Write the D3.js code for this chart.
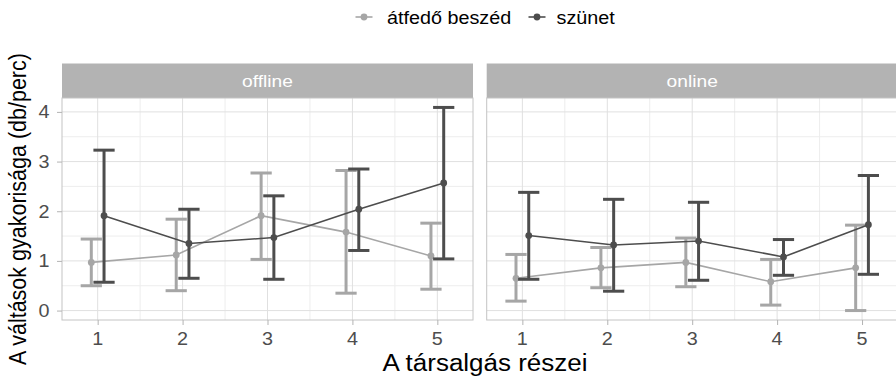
<!DOCTYPE html>
<html>
<head>
<meta charset="utf-8">
<script src="https://cdn.jsdelivr.net/npm/d3@7"></script>
<style>
  html, body { margin: 0; padding: 0; background: #ffffff; }
  svg { display: block; font-family: "Liberation Sans", Arial, sans-serif; }
</style>
</head>
<body>
<svg id="chart" width="896" height="376"></svg>
<script>
// Conversation parts (x axis) and facet panels
const parts = [1, 2, 3, 4, 5];
const panels = ["offline", "online"];
const seriesNames = ["átfedő beszéd", "szünet"];
const yTicks = [0, 1, 2, 3, 4];

// Switch frequency (per minute): mean with lower / upper interval bounds
const offlineOverlapMean = [0.97, 1.12, 1.91, 1.58, 1.10];
const offlineOverlapLow  = [0.50, 0.40, 1.03, 0.35, 0.43];
const offlineOverlapHigh = [1.44, 1.84, 2.77, 2.82, 1.76];
const offlinePauseMean   = [1.91, 1.35, 1.47, 2.04, 2.57];
const offlinePauseLow    = [0.57, 0.65, 0.63, 1.21, 1.04];
const offlinePauseHigh   = [3.23, 2.04, 2.31, 2.85, 4.09];

const onlineOverlapMean  = [0.65, 0.86, 0.97, 0.58, 0.86];
const onlineOverlapLow   = [0.19, 0.46, 0.48, 0.11, 0.00];
const onlineOverlapHigh  = [1.13, 1.27, 1.46, 1.03, 1.72];
const onlinePauseMean    = [1.51, 1.32, 1.40, 1.08, 1.73];
const onlinePauseLow     = [0.63, 0.39, 0.61, 0.71, 0.73];
const onlinePauseHigh    = [2.38, 2.24, 2.18, 1.43, 2.72];

const seriesColors = ["#a6a6a6", "#4d4d4d"];

function rows(mean, low, high) {
  return parts.map((p, i) => ({ part: p, mean: mean[i], low: low[i], high: high[i] }));
}
const panelData = {
  offline: [rows(offlineOverlapMean, offlineOverlapLow, offlineOverlapHigh),
            rows(offlinePauseMean, offlinePauseLow, offlinePauseHigh)],
  online:  [rows(onlineOverlapMean, onlineOverlapLow, onlineOverlapHigh),
            rows(onlinePauseMean, onlinePauseLow, onlinePauseHigh)]
};

// Layout
const SX = 1.13;              // horizontal text stretch
const panelTop = 98, panelBottom = 320, stripTop = 63.5;
const panelLefts = [62, 486.7];
const panelWidth = 411;
const dodge = 0.075, capHalf = 0.125;

const svg = d3.select("#chart");

const y = d3.scaleLinear().domain([-0.19, 4.28]).range([panelBottom, panelTop]);

function stretchedText(g, x, yy, str) {
  return g.append("text")
    .attr("transform", `translate(${x},${yy}) scale(${SX},1)`)
    .text(str);
}

panels.forEach((name, pi) => {
  const left = panelLefts[pi];
  const x = d3.scaleLinear().domain([0.58, 5.42]).range([left, left + panelWidth]);
  const g = svg.append("g");

  // Strip
  g.append("rect")
    .attr("x", left).attr("y", stripTop)
    .attr("width", panelWidth).attr("height", panelTop - stripTop)
    .attr("fill", "#b3b3b3");
  stretchedText(g, left + panelWidth / 2, 86.5, name)
    .attr("text-anchor", "middle").attr("fill", "#ffffff")
    .attr("font-size", 17);

  // Minor grid
  const xMinor = [1.5, 2.5, 3.5, 4.5];
  const yMinor = [0.5, 1.5, 2.5, 3.5];
  g.selectAll(".vminor").data(xMinor).join("line")
    .attr("x1", d => x(d)).attr("x2", d => x(d))
    .attr("y1", panelTop).attr("y2", panelBottom)
    .attr("stroke", "#ededed").attr("stroke-width", 1);
  g.selectAll(".hminor").data(yMinor).join("line")
    .attr("x1", left).attr("x2", left + panelWidth)
    .attr("y1", d => y(d)).attr("y2", d => y(d))
    .attr("stroke", "#ededed").attr("stroke-width", 1);
  // Major grid
  g.selectAll(".vmajor").data(parts).join("line")
    .attr("x1", d => x(d)).attr("x2", d => x(d))
    .attr("y1", panelTop).attr("y2", panelBottom)
    .attr("stroke", "#e0e0e0").attr("stroke-width", 1);
  g.selectAll(".hmajor").data(yTicks).join("line")
    .attr("x1", left).attr("x2", left + panelWidth)
    .attr("y1", d => y(d)).attr("y2", d => y(d))
    .attr("stroke", "#e0e0e0").attr("stroke-width", 1);

  // Panel border
  g.append("rect")
    .attr("x", left).attr("y", panelTop)
    .attr("width", panelWidth).attr("height", panelBottom - panelTop)
    .attr("fill", "none").attr("stroke", "#c4c4c4").attr("stroke-width", 1);

  // X axis
  const xAxis = d3.axisBottom(x).tickValues(parts).tickSize(5).tickPadding(0).tickFormat(d3.format("d"));
  const ax = g.append("g").attr("transform", `translate(0,${panelBottom})`).call(xAxis);
  ax.select(".domain").remove();
  ax.selectAll(".tick line").attr("stroke", "#b3b3b3");
  ax.selectAll(".tick text").remove();
  parts.forEach(p => {
    stretchedText(g, x(p), 345, d3.format("d")(p))
      .attr("text-anchor", "middle").attr("fill", "#4d4d4d").attr("font-size", 17.5);
  });

  // Series: error bars, lines, points
  panelData[name].forEach((data, si) => {
    const off = si === 0 ? -dodge : dodge;
    const col = seriesColors[si];
    const sg = g.append("g");
    const eb = sg.selectAll(".eb").data(data).join("g");
    eb.append("line")
      .attr("x1", d => x(d.part + off)).attr("x2", d => x(d.part + off))
      .attr("y1", d => y(d.low)).attr("y2", d => y(d.high))
      .attr("stroke", col).attr("stroke-width", 3);
    eb.append("line")
      .attr("x1", d => x(d.part + off - capHalf)).attr("x2", d => x(d.part + off + capHalf))
      .attr("y1", d => y(d.high)).attr("y2", d => y(d.high))
      .attr("stroke", col).attr("stroke-width", 3);
    eb.append("line")
      .attr("x1", d => x(d.part + off - capHalf)).attr("x2", d => x(d.part + off + capHalf))
      .attr("y1", d => y(d.low)).attr("y2", d => y(d.low))
      .attr("stroke", col).attr("stroke-width", 3);
    sg.append("path").datum(data)
      .attr("d", d3.line().x(d => x(d.part + off)).y(d => y(d.mean)))
      .attr("fill", "none").attr("stroke", col).attr("stroke-width", 1.6);
    sg.selectAll("circle").data(data).join("circle")
      .attr("cx", d => x(d.part + off)).attr("cy", d => y(d.mean))
      .attr("r", 3.4).attr("fill", col);
  });
});

// Y axis (left panel only)
const yAxis = d3.axisLeft(y).tickValues(yTicks).tickSize(5).tickFormat(d3.format("d"));
const ay = svg.append("g").attr("transform", `translate(${panelLefts[0]},0)`).call(yAxis);
ay.select(".domain").remove();
ay.selectAll(".tick line").attr("stroke", "#b3b3b3");
ay.selectAll(".tick text").remove();
yTicks.forEach(t => {
  stretchedText(svg, 49.5, y(t) + 6.3, d3.format("d")(t))
    .attr("text-anchor", "end").attr("fill", "#4d4d4d").attr("font-size", 17.5);
});

// Axis titles
stretchedText(svg, 485, 370.5, "A társalgás részei")
  .attr("text-anchor", "middle").attr("fill", "#000000").attr("font-size", 23);
svg.append("text")
  .attr("transform", `translate(26,209) scale(${SX},1) rotate(-90)`)
  .attr("text-anchor", "middle").attr("fill", "#000000").attr("font-size", 21.5)
  .text("A váltások gyakorisága (db/perc)");

// Legend
const legendItems = [
  { name: seriesNames[0], color: seriesColors[0], keyX: 364, textX: 387 },
  { name: seriesNames[1], color: seriesColors[1], keyX: 537, textX: 556.5 }
];
const lg = svg.append("g");
legendItems.forEach(it => {
  lg.append("line")
    .attr("x1", it.keyX - 8.5).attr("x2", it.keyX + 8.5)
    .attr("y1", 17).attr("y2", 17)
    .attr("stroke", it.color).attr("stroke-width", 1.6);
  lg.append("circle").attr("cx", it.keyX).attr("cy", 17).attr("r", 3.4).attr("fill", it.color);
  stretchedText(lg, it.textX, 23.5, it.name)
    .attr("fill", "#000000").attr("font-size", 17.5);
});
</script>
</body>
</html>
